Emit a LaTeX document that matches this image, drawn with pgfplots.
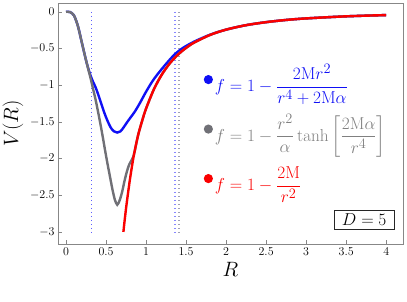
\documentclass[border=0pt]{standalone}
\usepackage{amsmath}
\usepackage{pgfplots}
\pgfplotsset{compat=1.18}
\definecolor{cblue}{RGB}{15,15,245}
\definecolor{cgray}{RGB}{112,112,118}
\definecolor{cred}{RGB}{250,0,0}
\definecolor{axgray}{RGB}{135,135,135}
\definecolor{tgray}{RGB}{128,128,128}
\definecolor{vblue}{RGB}{95,95,255}
\definecolor{vlblue}{RGB}{135,135,255}
\definecolor{vlgray}{RGB}{160,160,178}
\begin{document}
\begin{tikzpicture}
\begin{axis}[
  scale only axis, width=345pt, height=241pt,
  xmin=-0.1, xmax=4.21, ymin=-3.165, ymax=0.12,
  xtick={0,0.5,1,1.5,2,2.5,3,3.5,4},
  ytick={-3,-2.5,-2,-1.5,-1,-0.5,0},
  tick pos=left,
  axis line style={axgray, line width=0.7pt},
  tick style={axgray, line width=0.6pt},
  major tick length=4pt,
  tick label style={font=\fontsize{12}{14}\selectfont},
  xlabel={$R$}, ylabel={$V(R)$},
  label style={font=\fontsize{22}{26}\selectfont},
  legend cell align=left,
  legend style={at={(axis cs:1.6825,-0.69)}, anchor=north west, draw=none, fill=none,
    row sep=9pt, nodes={text height=25pt, text depth=11.5pt}, font=\fontsize{19}{23}\selectfont},
  legend image code/.code={\fill[#1] (0.5cm-3pt,5.3pt) circle (3.3pt);},
]
% vertical dotted lines
\addplot[vblue, line width=1.6pt, dash pattern=on 1.5pt off 2.5pt, forget plot] coordinates {(0.32,0) (0.32,-3)};
\addplot[vlblue, line width=1.6pt, dash pattern=on 1.5pt off 2.5pt, forget plot] coordinates {(1.365,0) (1.365,-3)};
\addplot[vlgray, line width=1.6pt, dash pattern=on 1.5pt off 2.5pt, forget plot] coordinates {(1.41,0) (1.41,-3)};
% blue
\addplot[cblue, line width=2.4pt, smooth] coordinates {
(0,0) (0.05,-0.004) (0.1,-0.05) (0.15,-0.2) (0.2,-0.43) (0.25,-0.66) (0.28,-0.78)
(0.31,-0.88) (0.34,-0.96) (0.37,-1.03) (0.4,-1.12) (0.44,-1.25) (0.48,-1.38)
(0.52,-1.49) (0.56,-1.58) (0.6,-1.63) (0.64,-1.646) (0.68,-1.63) (0.72,-1.575)
(0.76,-1.51) (0.8,-1.45) (0.86,-1.36) (0.92,-1.25) (1.0,-1.09) (1.09,-0.93)
(1.2,-0.775) (1.34,-0.6) (1.45,-0.5) (1.6,-0.407) (1.8,-0.312) (2.0,-0.243)
(2.25,-0.182) (2.5,-0.141) (2.75,-0.111) (3.0,-0.090) (3.5,-0.0617) (4.0,-0.0445)
};
\addlegendentry{\textcolor{cblue}{$f=1-\dfrac{2\mathrm{M}r^2}{r^4+2\mathrm{M}\alpha}$}}
% gray
\addplot[cgray, line width=2.4pt, smooth] coordinates {
(0,0) (0.05,-0.004) (0.1,-0.05) (0.15,-0.2) (0.2,-0.43) (0.25,-0.66) (0.28,-0.79)
(0.31,-0.92) (0.34,-1.06) (0.37,-1.2) (0.4,-1.36) (0.43,-1.53) (0.46,-1.71)
(0.49,-1.9) (0.52,-2.08) (0.55,-2.25) (0.58,-2.42) (0.61,-2.56) (0.64,-2.63)
(0.67,-2.57) (0.7,-2.46) (0.73,-2.31) (0.76,-2.18) (0.79,-2.08) (0.82,-2.02)
(0.85,-1.94) (0.9,-1.685) (0.95,-1.49) (1.0,-1.32) (1.1,-1.051) (1.2,-0.850)
(1.3,-0.698) (1.4,-0.582) (1.5,-0.492) (1.6,-0.420) (1.8,-0.315) (2.0,-0.243)
(2.25,-0.182) (2.5,-0.141) (2.75,-0.111) (3.0,-0.090) (3.5,-0.0617) (4.0,-0.0445)
};
\addlegendentry{\textcolor{tgray}{$f=1-\dfrac{r^2}{\alpha}\tanh\left[\dfrac{2\mathrm{M}\alpha}{r^4}\right]$}}
% red
\addplot[cred, line width=2.4pt, smooth] coordinates {
(0.717,-3.0) (0.73,-2.87) (0.75,-2.68) (0.775,-2.47) (0.8,-2.275) (0.825,-2.1)
(0.85,-1.94) (0.9,-1.685) (0.95,-1.49) (1.0,-1.32) (1.1,-1.051) (1.2,-0.850)
(1.3,-0.698) (1.4,-0.582) (1.5,-0.492) (1.6,-0.420) (1.8,-0.315) (2.0,-0.243)
(2.25,-0.182) (2.5,-0.141) (2.75,-0.111) (3.0,-0.090) (3.5,-0.0617) (4.0,-0.0445)
};
\addlegendentry{\textcolor{cred}{$f=1-\dfrac{2\mathrm{M}}{r^2}$}}
\node[draw=black!85, fill=white, line width=0.6pt, inner xsep=7.5pt, inner ysep=3.5pt,
  font=\fontsize{19}{22}\selectfont] at (axis cs:3.725,-2.83) {$D=5$};
\end{axis}
\pgfresetboundingbox
\path (current axis.south west) +(-58pt,-57pt) (current axis.north east) +(4pt,3pt);
\end{tikzpicture}
\end{document}
